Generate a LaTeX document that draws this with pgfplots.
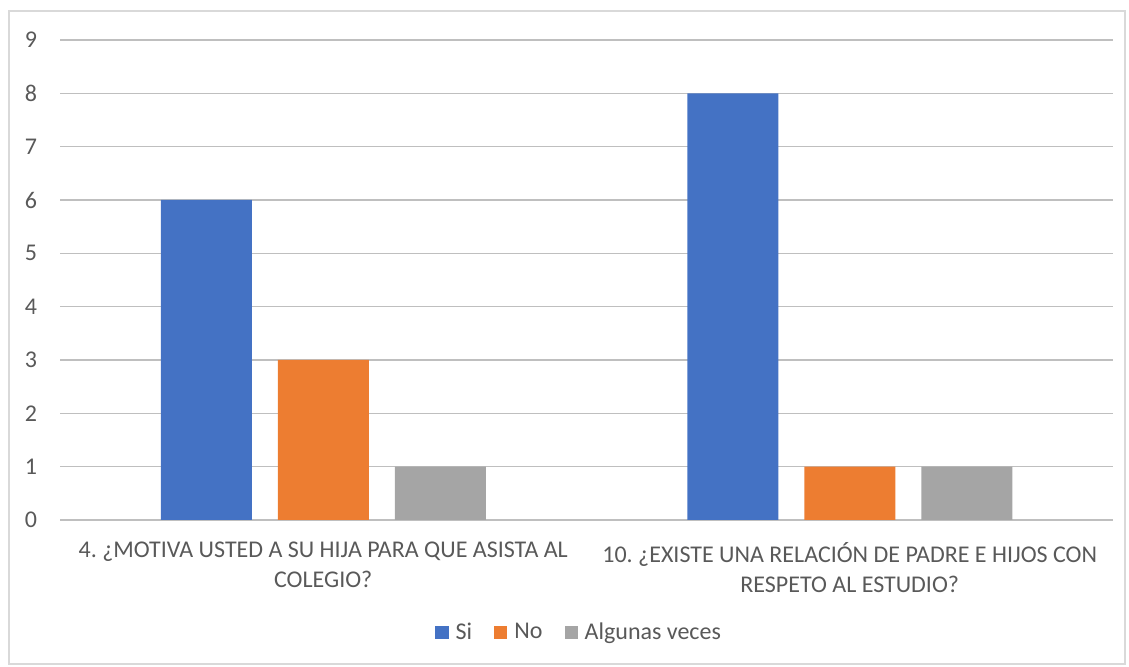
\documentclass[border=0pt]{standalone}
\usepackage{fontspec}
\setmainfont{Carlito}
\usepackage{pgfplots}
\pgfplotsset{compat=1.18}
\definecolor{cblue}{HTML}{4472C4}
\definecolor{corange}{HTML}{ED7D31}
\definecolor{cgray}{HTML}{A5A5A5}
\definecolor{grid}{HTML}{D9D9D9}
\definecolor{txt}{HTML}{595959}
\begin{document}
\frenchspacing
\begin{tikzpicture}
\path[use as bounding box] (0,0) rectangle (564.5pt,333.5pt);
\draw[grid, line width=0.6pt] (4.5pt,1.5pt) rectangle (562.5pt,328pt);
\begin{axis}[
  at={(30pt,73.5pt)}, anchor=south west,
  scale only axis, width=526.5pt, height=240pt,
  xmin=-0.5, xmax=1.5, ymin=0, ymax=9,
  ybar, bar width=45.5pt,
  axis line style={draw=none},
  xtick={0,1},
  xticklabels={{4. ¿MOTIVA USTED A SU HIJA PARA QUE ASISTA AL\\COLEGIO?},{10. ¿EXISTE UNA RELACIÓN DE PADRE E HIJOS CON\\RESPETO AL ESTUDIO?}},
  xticklabel style={align=center, text=txt, font=\fontsize{12}{15}\selectfont, yshift=-7.5pt},
  ytick={0,...,9},
  yticklabel style={text=txt, font=\fontsize{12}{14}\selectfont, xshift=-8pt},
  /pgf/number format/assume math mode=true,
  major tick length=0pt,
  xtick style={draw=none}, ytick style={draw=none},
  xmajorgrids=false,
  ymajorgrids, grid style={grid, line width=0.7pt},
  legend style={draw=none, at={(0.494,-0.235)}, anchor=center, legend columns=3,
    font=\fontsize{12}{14}\selectfont, text=txt,
    /tikz/every odd column/.append style={column sep=1.5pt},
    /tikz/every even column/.append style={column sep=9pt}},
  legend image code/.code={\fill[#1] (0pt,-3.3pt) rectangle (6.6pt,3.3pt);},
]
\addplot[fill=cblue, draw=none, bar shift=-58.5pt] coordinates {(0,6) (1,8)};
\addplot[fill=corange, draw=none, bar shift=0pt] coordinates {(0,3) (1,1)};
\addplot[fill=cgray, draw=none, bar shift=58.5pt] coordinates {(0,1) (1,1)};
\legend{Si, No, Algunas veces}
\end{axis}
\end{tikzpicture}
\end{document}
